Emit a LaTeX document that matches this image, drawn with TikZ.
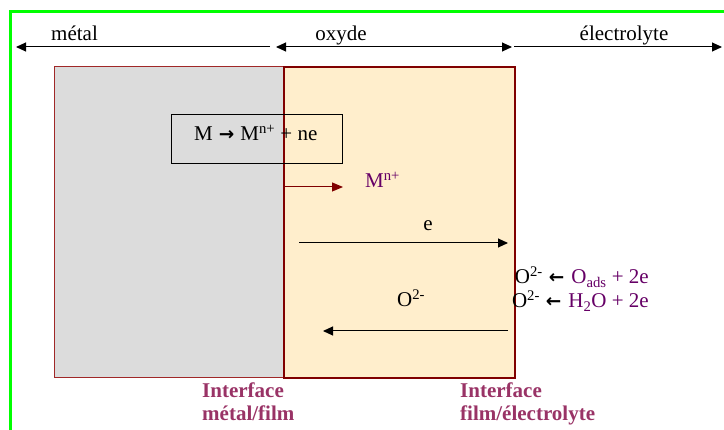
\documentclass[tikz,border=0pt]{standalone}
\usepackage{fontspec}
\setmainfont{Liberation Serif}
\newfontfamily\arrfont{DejaVu Sans}
\usetikzlibrary{arrows.meta}
\definecolor{grn}{RGB}{0,255,0}
\definecolor{metalfill}{RGB}{220,220,220}
\definecolor{oxfill}{RGB}{255,238,204}
\definecolor{bord}{RGB}{128,0,0}
\definecolor{bordl}{RGB}{160,40,40}
\definecolor{purp}{RGB}{102,0,102}
\definecolor{ifc}{RGB}{153,51,102}
\newcommand{\larr}{\hspace{6pt}{\arrfont\bfseries\fontsize{18.5}{20}\selectfont ←}\hspace{7pt}}
\newcommand{\rarr}{\hspace{6pt}{\arrfont\bfseries\fontsize{18.5}{20}\selectfont →}\hspace{6pt}}
\begin{document}
\begin{tikzpicture}[x=1pt,y=-1pt,
  font=\fontsize{21}{24}\selectfont,
  txt/.style={inner sep=0pt,anchor=base west},
  etxt/.style={inner sep=0pt,anchor=base east},
  ctxt/.style={inner sep=0pt,anchor=base},
  tipline/.style={line width=1pt,-{Triangle[length=10pt,width=9pt]}},
  dtipline/.style={line width=1pt,{Triangle[length=10pt,width=9pt]}-{Triangle[length=10pt,width=9pt]}},
  ifclabel/.style={txt,text=ifc,font=\fontsize{21}{24}\selectfont\bfseries}]
\useasboundingbox (0,0) rectangle (724,430);
% green frame
\draw[grn,line width=3pt] (10,430) -- (10,11.5) -- (724,11.5);
% region arrows
\coordinate (mA) at (270,47);
\coordinate (mB) at (16,47);
\coordinate (oA) at (276,47);
\coordinate (oB) at (512,47);
\coordinate (eA) at (514,47);
\coordinate (eB) at (722,47);
\draw[tipline] (mA) -- (mB);
\draw[dtipline] (oA) -- (oB);
\draw[tipline] (eA) -- (eB);
\node[txt] (lmetal) at (51,40.5) {métal};
\node[ctxt] (loxyde) at (341,40.5) {oxyde};
\node[ctxt] (lelec) at (624,40.5) {électrolyte};
% rectangles
\draw[fill=metalfill,draw=bordl,line width=1pt] (54,67) rectangle (284,378);
\draw[fill=oxfill,draw=bord,line width=1.6pt] (284,67) rectangle (515,378);
% reaction box
\draw[black,line width=1pt] (171,115) rectangle (342,164);
\node[txt] (reac) at (194,141) {M\rarr{}M\textsuperscript{n+} + ne};
% cation arrow
\coordinate (cA) at (284,187);
\coordinate (cB) at (343,187);
\draw[bord,line width=1pt,-{Triangle[length=11pt,width=9pt]}] (cA) -- (cB);
\node[txt,text=purp] (cat) at (365,188) {M\textsuperscript{n+}};
% electron arrow
\coordinate (eL) at (299,243);
\coordinate (eR) at (508,243);
\draw[tipline] (eL) -- (eR);
\node[ctxt] (le) at (428,231) {e};
% oxygen arrow
\coordinate (oR) at (508,331);
\coordinate (oL) at (323,331);
\draw[tipline] (oR) -- (oL);
\node[txt] (lox) at (397,307) {O\textsuperscript{2-}};
% right reactions
\node[etxt] (r1) at (649,284) {O\textsuperscript{2-}\larr{}\textcolor{purp}{O\textsubscript{ads} + 2e}};
\node[etxt] (r2) at (649,308) {O\textsuperscript{2-}\larr{}\textcolor{purp}{H\textsubscript{2}O + 2e}};
% interface labels
\node[ifclabel] (i1a) at (202,398) {Interface};
\node[ifclabel] (i1b) at (202,421) {métal/film};
\node[ifclabel] (i2a) at (460,398) {Interface};
\node[ifclabel] (i2b) at (460,421) {film/électrolyte};
\end{tikzpicture}
\end{document}
